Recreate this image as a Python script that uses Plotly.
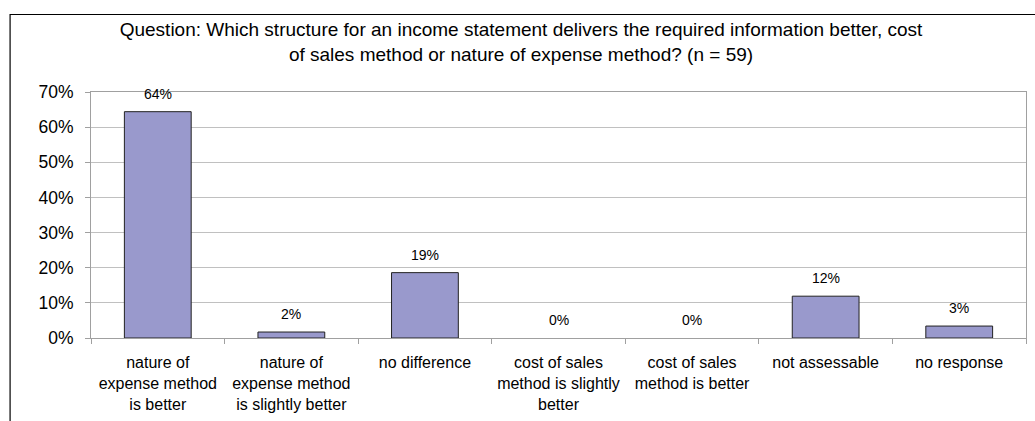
import plotly.graph_objects as go

# Survey answers (n = 59), share of respondents in percent
categories = [
    "nature of<br>expense method<br>is better",
    "nature of<br>expense method<br>is slightly better",
    "no difference",
    "cost of sales<br>method is slightly<br>better",
    "cost of sales<br>method is better",
    "not assessable",
    "no response",
]
shares = [64.4, 1.7, 18.6, 0.0, 0.0, 11.9, 3.4]
y_ticks = [0, 10, 20, 30, 40, 50, 60, 70]
y_tick_labels = [f"{t}%" for t in y_ticks]

title_text = ("Question: Which structure for an income statement delivers the required information better, cost"
              "<br>of sales method or nature of expense method? (n = 59)")

W, H = 1035, 421
L, R, T, B = 91, 8, 92, 75
FONT = "Liberation Sans, Arial, sans-serif"
GRID = "#c0c0c0"
AXIS = "#a0a0a0"

fig = go.Figure(
    go.Bar(
        x=categories,
        y=shares,
        width=0.5,
        marker=dict(
            color="#9999cc",
            line=dict(color="#222222", width=[1 if v > 0 else 0 for v in shares]),
        ),
        hoverinfo="skip",
    )
)

# value labels floating above each bar
for c, v in zip(categories, shares):
    fig.add_annotation(
        x=c, y=v, text=f"{round(v)}%", showarrow=False,
        yanchor="middle", yshift=18,
        font=dict(family=FONT, size=14, color="#000000"),
    )

# outer chart frame (left and top edges are visible)
pw, ph = W - L - R, H - T - B
fig.add_shape(
    type="rect", xref="paper", yref="paper",
    x0=(10 - L) / pw, x1=(W + 20 - L) / pw,
    y0=-(H + 20 - (H - B)) / ph, y1=((H - B) - 12) / ph,
    line=dict(color="#000000", width=1.2), fillcolor="rgba(0,0,0,0)",
    layer="below",
)

fig.update_layout(
    width=W, height=H,
    margin=dict(l=L, r=R, t=T, b=B),
    paper_bgcolor="white", plot_bgcolor="white",
    showlegend=False,
    bargap=0.5,
    font=dict(family=FONT, color="#000000"),
    title=dict(
        text=title_text, x=521 / W, xref="container", xanchor="center",
        y=1 - 36 / H, yref="container", yanchor="top",
        font=dict(family=FONT, size=19, color="#000000"),
    ),
    xaxis=dict(
        showline=True, linecolor=AXIS, linewidth=1, mirror=True,
        ticks="outside", tickson="boundaries", ticklen=5, tickcolor=AXIS,
        showgrid=False,
        tickfont=dict(family=FONT, size=16, color="#000000"),
        ticklabelstandoff=10,
    ),
    yaxis=dict(
        range=[0, 70], tickvals=y_ticks, ticktext=y_tick_labels,
        showline=True, linecolor=AXIS, linewidth=1, mirror=True,
        ticks="outside", ticklen=5, tickcolor=AXIS,
        showgrid=True, gridcolor=GRID, gridwidth=1, zeroline=False,
        tickfont=dict(family=FONT, size=17.5, color="#000000"),
        ticklabelstandoff=8,
    ),
)

fig.write_html("out.html")
